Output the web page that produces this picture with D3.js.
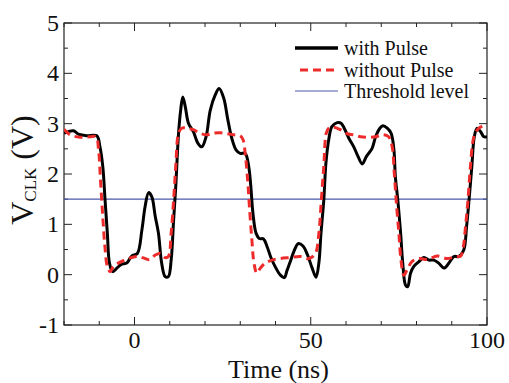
<!DOCTYPE html>
<html><head><meta charset="utf-8">
<script src="https://cdn.jsdelivr.net/npm/d3@7"></script>
<style>body{margin:0;background:#fff}svg{display:block}text{font-family:"Liberation Serif","Times New Roman",serif;fill:#111}</style>
</head><body>
<script>
const withPulseT=[-20,-17.3,-15.9,-13.6,-10.7,-9.8,-9.0,-8.35,-7.7,-7.1,-6.2,-5.0,-3.6,-2.2,-0.8,0.8,2.1,3.0,4.0,4.9,5.9,6.8,7.7,8.7,9.6,10.4,11.1,11.7,12.5,13.1,13.7,14.4,15.3,16.7,18.0,19.1,20.3,21.5,22.9,24.0,25.3,26.5,27.6,28.8,30.0,31.4,32.4,33.0,33.6,34.5,35.4,36.6,37.6,38.7,39.9,41.4,42.5,43.3,44.2,45.2,46.5,47.8,49.1,50.4,51.5,52.3,52.9,53.7,54.3,55.1,56.0,57.5,58.6,59.5,60.8,62.2,63.4,64.6,65.8,67.4,68.4,69.6,70.5,71.7,72.8,73.6,74.0,74.7,75.5,76.1,76.9,77.5,78.3,79.2,80.7,82.1,83.5,84.9,86.3,87.8,89.2,90.6,92.0,93.4,94.2,94.9,95.7,96.4,97.2,98.2,99.1,100];
const withPulseV=[2.81,2.86,2.79,2.76,2.76,2.54,2.15,1.48,0.82,0.23,0.06,0.13,0.21,0.23,0.37,0.42,0.89,1.35,1.63,1.55,1.15,0.82,0.23,-0.04,-0.04,0.29,1.09,1.75,2.81,3.27,3.53,3.34,3.01,2.84,2.61,2.54,2.74,3.27,3.57,3.70,3.51,3.07,2.71,2.48,2.41,2.41,2.15,1.75,1.22,0.82,0.72,0.71,0.56,0.34,0.16,-0.01,-0.06,0.09,0.26,0.46,0.62,0.57,0.39,0.13,-0.05,0.23,0.82,1.48,2.21,2.68,2.94,3.02,3.01,2.91,2.71,2.54,2.35,2.20,2.35,2.51,2.74,2.91,2.96,2.91,2.81,2.48,1.95,1.48,0.82,0.23,-0.21,-0.24,0.03,0.16,0.26,0.34,0.29,0.29,0.23,0.13,0.23,0.36,0.36,0.49,0.95,1.48,2.15,2.74,2.91,2.84,2.74,2.74];
const withoutPulseT=[-20,-18.3,-15.5,-12.6,-10.9,-10.2,-9.6,-9.0,-8.4,-7.7,-6.9,-6.0,-4.6,-2.7,-0.8,1.1,3.0,4.4,5.9,7.3,8.7,9.6,10.4,11.1,11.7,12.5,13.4,14.8,16.7,18.6,20.5,22.4,24.3,26.2,28.1,30.0,30.8,31.4,32.1,32.6,33.3,33.9,34.7,35.7,37.1,39.0,41.4,44.2,47.0,49.4,51.3,52.3,53.0,53.7,54.4,55.1,56.5,58.4,60.3,62.2,64.1,66.0,68.4,70.3,72.1,73.1,73.7,74.3,75.0,75.6,76.4,77.3,78.7,80.7,83.0,85.9,88.7,91.1,92.5,93.3,93.9,94.6,95.3,96.3,97.7,99.1,100];
const withoutPulseV=[2.89,2.78,2.73,2.74,2.74,2.48,1.82,1.15,0.56,0.16,0.06,0.16,0.23,0.29,0.34,0.36,0.32,0.30,0.39,0.42,0.34,0.36,0.82,1.48,2.15,2.81,2.91,2.91,2.88,2.81,2.78,2.81,2.82,2.80,2.78,2.76,2.68,2.41,1.88,1.35,0.69,0.23,0.03,0.13,0.23,0.29,0.32,0.34,0.36,0.32,0.42,0.82,1.48,2.15,2.81,2.91,2.93,2.88,2.80,2.78,2.74,2.73,2.74,2.78,2.74,2.54,2.01,1.42,0.82,0.29,-0.01,0.09,0.26,0.32,0.30,0.37,0.32,0.36,0.37,0.56,0.95,1.48,2.15,2.74,2.91,2.96,3.0];
const thresholdLevel=1.5;
const xTicks=[0,50,100];
const yTicks=[-1,0,1,2,3,4,5];
const seriesNames=["with Pulse","without Pulse","Threshold level"];

const W=509,H=383;
const m={left:64,right:22,top:23,bottom:58};
const svg=d3.select("body").append("svg").attr("width",W).attr("height",H);
const x=d3.scaleLinear().domain([-20,100]).range([m.left,W-m.right]);
const y=d3.scaleLinear().domain([-1,5]).range([H-m.bottom,m.top]);
const x0=x.range()[0],x1=x.range()[1],y0=y.range()[0],y1=y.range()[1];

const minorX=d3.range(-20,101,10), minorY=d3.range(-1,5.01,0.5);
const g=svg.append("g");
minorX.forEach(v=>{
  const L=xTicks.includes(v)?8:4;
  g.append("line").attr("x1",x(v)).attr("x2",x(v)).attr("y1",y0).attr("y2",y0-L).attr("stroke","#222");
  g.append("line").attr("x1",x(v)).attr("x2",x(v)).attr("y1",y1).attr("y2",y1+L).attr("stroke","#222");
});
minorY.forEach(v=>{
  const L=Number.isInteger(v)?8:4;
  g.append("line").attr("y1",y(v)).attr("y2",y(v)).attr("x1",x0).attr("x2",x0+L).attr("stroke","#222");
  g.append("line").attr("y1",y(v)).attr("y2",y(v)).attr("x1",x1).attr("x2",x1-L).attr("stroke","#222");
});
g.append("rect").attr("x",x0).attr("y",y1).attr("width",x1-x0).attr("height",y0-y1).attr("fill","none").attr("stroke","#222").attr("stroke-width",1.2);

svg.selectAll(".xl").data(xTicks).enter().append("text").attr("x",d=>x(d)).attr("y",348).attr("text-anchor","middle").attr("font-size",24).text(d=>d);
svg.selectAll(".yl").data(yTicks).enter().append("text").attr("x",59).attr("y",d=>y(d)+8).attr("text-anchor","end").attr("font-size",24).text(d=>d);

svg.append("text").attr("x",228).attr("y",378).attr("font-size",26).text("Time (ns)");
const yl=svg.append("text").attr("transform","translate(33,170) rotate(-90)").attr("text-anchor","middle").attr("font-size",32);
yl.append("tspan").text("V");
yl.append("tspan").attr("font-size",17).attr("dy",3).text("CLK");
yl.append("tspan").attr("dy",-3).text(" (V)");

svg.append("clipPath").attr("id","c").append("rect").attr("x",x0).attr("y",y1).attr("width",x1-x0).attr("height",y0-y1);
const pg=svg.append("g").attr("clip-path","url(#c)");
pg.append("line").attr("x1",x0).attr("x2",x1).attr("y1",y(thresholdLevel)).attr("y2",y(thresholdLevel)).attr("stroke","#4a5aa8").attr("stroke-width",1.1);
const line=d3.line().x(d=>x(d[0])).y(d=>y(d[1])).curve(d3.curveCatmullRom.alpha(0.5));
pg.append("path").attr("d",line(withPulseT.map((t,i)=>[t,withPulseV[i]]))).attr("fill","none").attr("stroke","#000").attr("stroke-width",3);
pg.append("path").attr("d",line(withoutPulseT.map((t,i)=>[t,withoutPulseV[i]]))).attr("fill","none").attr("stroke","#ee2b2b").attr("stroke-width",3).attr("stroke-dasharray","8,5");

const lg=svg.append("g");
const ly=[48,70,91];
const styles=[{c:"#000",w:3.5,d:null},{c:"#ee2b2b",w:3,d:"8,5"},{c:"#4a5aa8",w:1.1,d:null}];
seriesNames.forEach((n,i)=>{
  lg.append("line").attr("x1",i==1?300:295).attr("x2",338).attr("y1",ly[i]).attr("y2",ly[i]).attr("stroke",styles[i].c).attr("stroke-width",styles[i].w).attr("stroke-dasharray",styles[i].d);
  lg.append("text").attr("x",344).attr("y",ly[i]+7).attr("font-size",20).text(n);
});
</script>
</body></html>
